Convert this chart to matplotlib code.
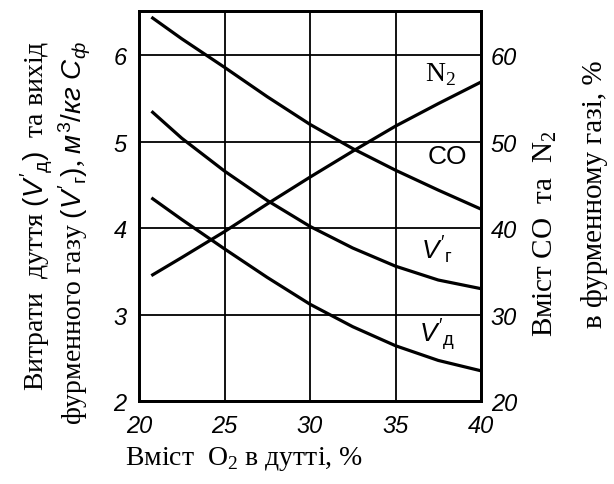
import matplotlib
matplotlib.use('Agg')
import matplotlib.pyplot as plt

plt.rcParams['font.family'] = ['Liberation Serif', 'DejaVu Serif']
plt.rcParams['mathtext.fontset'] = 'custom'
plt.rcParams['mathtext.it'] = 'Liberation Sans:italic'
plt.rcParams['mathtext.rm'] = 'Liberation Sans'

# вміст O2 в дутті, %
o2 = [20.8, 22.5, 25, 27.5, 30, 32.5, 35, 37.5, 40]
# витрати дуття та вихід фурменного газу, м3/кг Сф
v_g = [5.34, 5.04, 4.66, 4.32, 4.02, 3.77, 3.56, 3.40, 3.30]
v_d = [4.34, 4.10, 3.76, 3.43, 3.12, 2.86, 2.64, 2.47, 2.35]
# вміст CO та N2 у фурменному газі, %
co = [64.3, 61.9, 58.6, 55.2, 52.0, 49.2, 46.7, 44.4, 42.2]
n2 = [34.6, 36.6, 39.6, 42.8, 45.9, 48.9, 51.8, 54.4, 56.9]

x_ticks = [20, 25, 30, 35, 40]
left_ticks = [2, 3, 4, 5, 6]
right_ticks = [20, 30, 40, 50, 60]

tick_font = dict(family=['Liberation Sans Narrow', 'Liberation Sans'], style='italic', size=17)

fig = plt.figure(figsize=(6.14, 4.85), dpi=100)
ax = fig.add_axes([0.2264, 0.171, 0.557, 0.804])
ax2 = ax.twinx()

lw = 2.3
ax.plot(o2, v_g, color='black', lw=lw)
ax.plot(o2, v_d, color='black', lw=lw)
ax2.plot(o2, co, color='black', lw=lw)
ax2.plot(o2, n2, color='black', lw=lw)

ax.set_xlim(20, 40)
ax.set_ylim(2, 6.51)
ax2.set_ylim(20, 65.1)

ax.set_xticks(x_ticks)
ax.set_yticks(left_ticks)
ax2.set_yticks(right_ticks)
ax.set_xticklabels([str(t) for t in x_ticks], fontdict=tick_font)
ax.set_yticklabels([str(t) for t in left_ticks], fontdict=tick_font)
ax2.set_yticklabels([str(t) for t in right_ticks], fontdict=tick_font)
ax.tick_params(axis='both', length=0, pad=9)
ax2.tick_params(axis='y', length=0, pad=7)

ax.grid(True, color='black', lw=1.3)
for a in (ax, ax2):
    for s in a.spines.values():
        s.set_linewidth(2.0)
        s.set_color('black')

# підписи кривих
ax.text(36.7, 5.78, r'N$_\mathregular{2}$', fontsize=20, ha='left', va='center')
ax.text(36.9, 4.83, 'CO', fontsize=19, ha='left', va='center',
        family=['Liberation Sans Narrow', 'Liberation Sans'])
ax.text(36.5, 3.76, r"$V'_{\mathrm{г}}$", fontsize=19, ha='left', va='center')
ax.text(36.4, 2.78, r"$V'_{\mathrm{д}}$", fontsize=19, ha='left', va='center')

# підписи осей
fig.text(0.204, 0.054, r'Вміст  O$_\mathregular{2}$ в дутті, %', fontsize=20, ha='left', va='center')
fig.text(0.060, 0.555, r"Витрати  дуття $(V'_{\mathrm{д}})$  та вихід", fontsize=20,
         rotation=90, ha='center', va='center')
fig.text(0.122, 0.52, r"фурменного газу $(V'_{\mathrm{г}})$, $м^3/кг\ С_ф$", fontsize=20,
         rotation=90, ha='center', va='center')
fig.text(0.888, 0.517, r'Вміст CO  та  N$_\mathregular{2}$', fontsize=21,
         rotation=90, ha='center', va='center')
fig.text(0.969, 0.6, 'в фурменному газі, %', fontsize=21,
         rotation=90, ha='center', va='center')

plt.savefig('out.png', dpi=100)
